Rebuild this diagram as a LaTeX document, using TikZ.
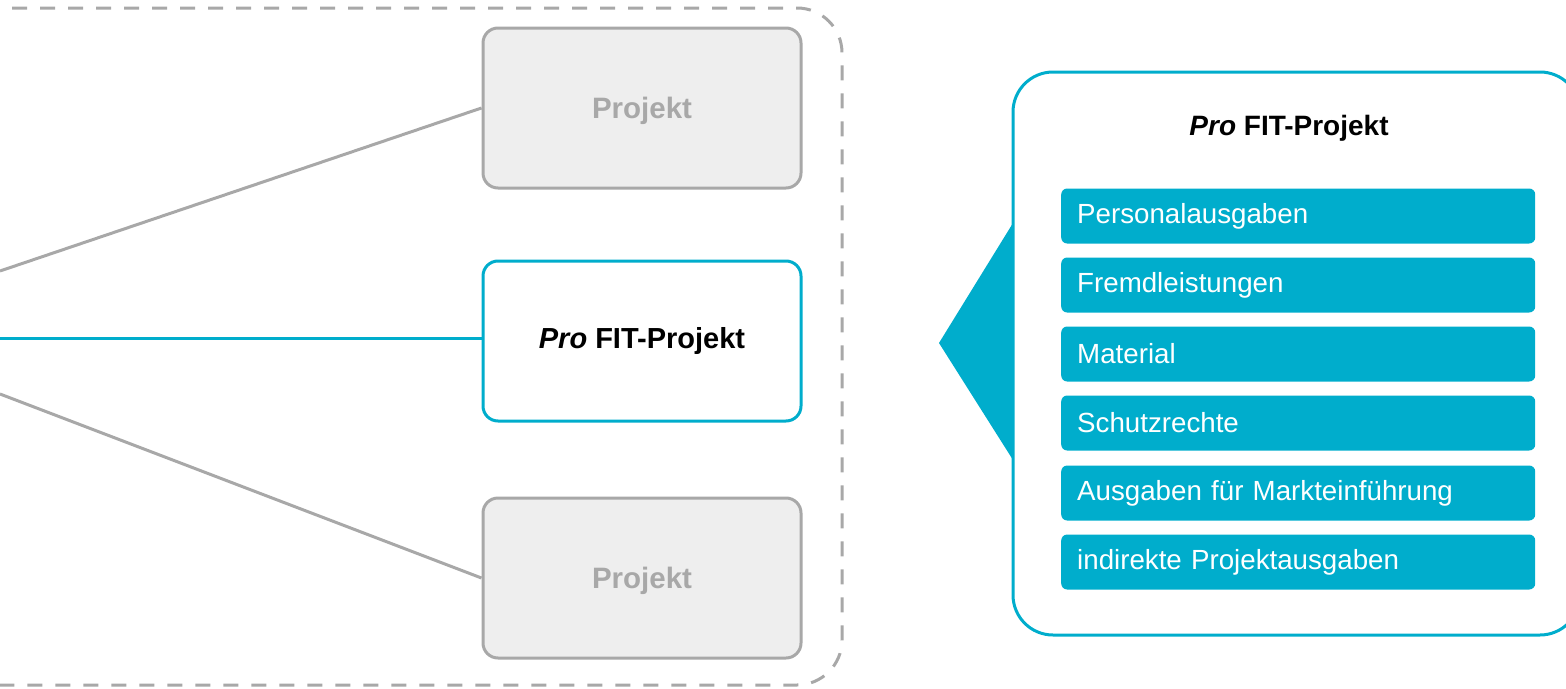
\documentclass[tikz,border=0pt]{standalone}
\usepackage{fontspec}
\setmainfont{Liberation Sans}
\definecolor{cy}{HTML}{00ADCC}
\definecolor{gr}{HTML}{A8A8A8}
\definecolor{grfill}{HTML}{EEEEEE}
\begin{document}
\begin{tikzpicture}[x=1pt,y=-1pt,
  projbox/.style={draw=gr, line width=3pt, fill=grfill, rounded corners=15pt,
    minimum width=318pt, minimum height=160pt, inner sep=0pt, text depth=0pt,
    font=\fontsize{29.5}{34}\selectfont\bfseries, text=gr},
  probox/.style={draw=cy, line width=3pt, fill=white, rounded corners=15pt,
    minimum width=318pt, minimum height=160pt, inner sep=0pt,
    font=\fontsize{29}{34}\selectfont\bfseries, text=black},
  item/.style={fill=cy, rounded corners=6pt, minimum width=474pt, minimum height=55pt,
    inner xsep=16pt, inner ysep=0pt, anchor=west, text=white, text width=442pt,
    font=\fontsize{27.7}{32}\selectfont, align=left},
  gline/.style={draw=gr, line width=3pt},
  cline/.style={draw=cy, line width=3pt}]
\useasboundingbox (0,0) rectangle (1566,688);
% dashed frame
\draw[gr, line width=3pt, dash pattern=on 15pt off 13pt, rounded corners=45pt]
  (-60,8) rectangle (842,685);
% project boxes
\node[projbox] (top) at (642,108) {Projekt};
\node[probox] (mid) at (642,341) {\textit{Pro} FIT-Projekt};
\node[projbox] (bot) at (642,578) {Projekt};
% connectors
\coordinate (l1) at (0,271);
\coordinate (l2) at (0,338);
\coordinate (l3) at (0,394);
\draw[gline] (l1) -- (top.west);
\draw[cline] (l2) -- (l2 -| mid.west);
\draw[gline] (l3) -- (bot.west);
% callout
\coordinate (tA) at (1013,223);
\coordinate (tB) at (939,343);
\coordinate (tC) at (1013,460);
\fill[cy] (tA) -- (tB) -- (tC) -- cycle;
\draw[cy, line width=3pt, rounded corners=40pt] (1013,72) rectangle (1580,635);
\node[font=\fontsize{28}{34}\selectfont\bfseries] (title) at (1289,128) {\textit{Pro} FIT-Projekt};
\node[item] (i1) at (1061,216) {Personalausgaben};
\node[item] (i2) at (1061,285) {Fremdleistungen};
\node[item] (i3) at (1061,354) {Material};
\node[item] (i4) at (1061,423) {Schutzrechte};
\node[item] (i5) at (1061,493) {Ausgaben für Markteinführung};
\node[item] (i6) at (1061,562) {indirekte Projektausgaben};
\end{tikzpicture}
\end{document}
